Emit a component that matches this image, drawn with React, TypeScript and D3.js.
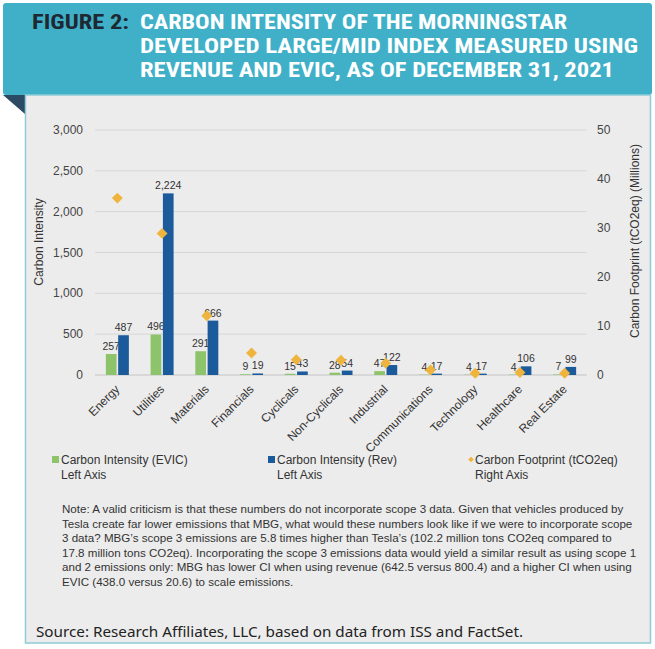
import React from "react";
import * as d3 from "d3";

const categories = [
  "Energy",
  "Utilities",
  "Materials",
  "Financials",
  "Cyclicals",
  "Non-Cyclicals",
  "Industrial",
  "Communications",
  "Technology",
  "Healthcare",
  "Real Estate",
];
const evicValues = [257, 496, 291, 9, 15, 28, 47, 4, 4, 4, 7];
const revValues = [487, 2224, 666, 19, 43, 54, 122, 17, 17, 106, 99];
const footprintValues = [36.1, 28.9, 12.1, 4.5, 3.1, 3.0, 2.4, 1.0, 0.35, 0.5, 0.35];
const leftTicks = [0, 500, 1000, 1500, 2000, 2500, 3000];
const rightTicks = [0, 10, 20, 30, 40, 50];

const titleLines = [
  "CARBON INTENSITY OF THE MORNINGSTAR",
  "DEVELOPED LARGE/MID INDEX MEASURED USING",
  "REVENUE AND EVIC, AS OF DECEMBER 31, 2021",
];
const titleWidths = [427, 498, 474];
const noteLines = [
  "Note: A valid criticism is that these numbers do not incorporate scope 3 data. Given that vehicles produced by",
  "Tesla create far lower emissions that MBG, what would these numbers look like if we were to incorporate scope",
  "3 data? MBG\u2019s scope 3 emissions are 5.8 times higher than Tesla\u2019s (102.2 million tons CO2eq compared to",
  "17.8 million tons CO2eq). Incorporating the scope 3 emissions data would yield a similar result as using scope 1",
  "and 2 emissions only: MBG has lower CI when using revenue (642.5 versus 800.4) and a higher CI when using",
  "EVIC (438.0 versus 20.6) to scale emissions.",
];

const GREEN = "#8dc46b";
const BLUE = "#1b5b9c";
const GOLD = "#efb43d";
const FONT = "'Liberation Sans', Arial, sans-serif";

export default function App() {
  const W = 655;
  const H = 649;
  const plot = { left: 95, right: 587, top: 130, bottom: 375 };

  const x = d3.scaleBand().domain(categories).range([plot.left, plot.right]);
  const bw = x.bandwidth();
  const x1 = d3
    .scaleBand()
    .domain(["evic", "rev"])
    .range([bw / 2 - 11.5, bw / 2 + 11.5])
    .paddingInner(0.13);
  const yL = d3.scaleLinear().domain([0, 3000]).range([plot.bottom, plot.top]);
  const yR = d3.scaleLinear().domain([0, 50]).range([plot.bottom, plot.top]);
  const diamond = d3.symbol(d3.symbolSquare, 60)()!;
  const smallDiamond = d3.symbol(d3.symbolSquare, 16)()!;
  const fmt = d3.format(",");

  const series = [
    { key: "evic", values: evicValues, color: GREEN },
    { key: "rev", values: revValues, color: BLUE },
  ];

  const legend = [
    { x: 52, kind: "sq", color: GREEN, l1: "Carbon Intensity (EVIC)", l2: "Left Axis" },
    { x: 268, kind: "sq", color: BLUE, l1: "Carbon Intensity (Rev)", l2: "Left Axis" },
    { x: 468, kind: "dm", color: GOLD, l1: "Carbon Footprint (tCO2eq)", l2: "Right Axis" },
  ];
  const legendY = 464;

  return (
    <svg
      width={W}
      height={H}
      style={{ position: "absolute", left: 0, top: 0 }}
      fontFamily={FONT}
    >
      <rect width={W} height={H} fill="#ffffff" />
      {/* header */}
      <rect x={3} y={3} width={649} height={92} rx={3} fill="#3fb0c8" />
      <path d="M3,95 L25,95 L25,114 Z" fill="#2c4a64" />
      <text
        x={32}
        y={29}
        fontFamily="'Roboto Condensed','DejaVu Sans Condensed',Roboto,sans-serif"
        fontWeight="bold"
        fontSize={20}
        fill="#1d2833"
        textLength={97}
        lengthAdjust="spacingAndGlyphs"
      >
        FIGURE 2:
      </text>
      {titleLines.map((t, i) => (
        <text
          key={i}
          x={140}
          y={29 + i * 24}
          fontFamily="'Roboto Condensed','DejaVu Sans Condensed',Roboto,sans-serif"
          fontWeight="bold"
          fontSize={20}
          fill="#ffffff"
          textLength={titleWidths[i]}
          lengthAdjust="spacingAndGlyphs"
        >
          {t}
        </text>
      ))}

      {/* panel */}
      <rect x={25.5} y={95} width={625} height={548} fill="#ececec" stroke="#8fcbd6" strokeWidth={1.5} />

      {/* grid */}
      {leftTicks.map((t) => (
        <line
          key={t}
          x1={plot.left}
          x2={plot.right}
          y1={yL(t)}
          y2={yL(t)}
          stroke={t === 0 ? "#c4c4c4" : "#d6d6d6"}
          strokeWidth={1}
        />
      ))}
      {leftTicks.map((t) => (
        <text key={t} x={83} y={yL(t) + 4} textAnchor="end" fontSize={12} fill="#444">
          {fmt(t)}
        </text>
      ))}
      {rightTicks.map((t) => (
        <text key={t} x={597} y={yR(t) + 4} textAnchor="start" fontSize={12} fill="#444">
          {t}
        </text>
      ))}
      <text transform={`translate(43,242) rotate(-90)`} textAnchor="middle" fontSize={12} fill="#333">
        Carbon Intensity
      </text>
      <text transform={`translate(639,241) rotate(-90)`} textAnchor="middle" fontSize={12} fill="#333">
        Carbon Footprint (tCO2eq) (Millions)
      </text>

      {/* bars */}
      {series.map((s) =>
        categories.map((c, i) => {
          const bx = x(c)! + x1(s.key)!;
          const v = s.values[i];
          return (
            <g key={s.key + c}>
              <rect x={bx} y={yL(v)} width={x1.bandwidth()} height={yL(0) - yL(v)} fill={s.color} />
              <text
                x={bx + x1.bandwidth() / 2}
                y={yL(v) - 4}
                textAnchor="middle"
                fontSize={10.5}
                fill="#333"
              >
                {fmt(v)}
              </text>
            </g>
          );
        })
      )}

      {/* footprint diamonds */}
      {categories.map((c, i) => (
        <path
          key={c}
          d={diamond}
          transform={`translate(${x(c)! + bw / 2},${yR(footprintValues[i])}) rotate(45)`}
          fill={GOLD}
        />
      ))}

      {/* x labels */}
      {categories.map((c) => (
        <text
          key={c}
          transform={`translate(${x(c)! + bw / 2 + 3},${plot.bottom + 15}) rotate(-45)`}
          textAnchor="end"
          fontSize={12}
          fill="#333"
        >
          {c}
        </text>
      ))}

      {/* legend */}
      {legend.map((d) => (
        <g key={d.l1}>
          {d.kind === "sq" ? (
            <rect x={d.x} y={legendY - 8} width={7} height={7} fill={d.color} />
          ) : (
            <path d={smallDiamond} transform={`translate(${d.x + 3},${legendY - 4.5}) rotate(45)`} fill={d.color} />
          )}
          <text x={d.x + (d.kind === "sq" ? 9 : 7)} y={legendY} fontSize={12} fill="#333">
            {d.l1}
          </text>
          <text x={d.x + (d.kind === "sq" ? 9 : 7)} y={legendY + 15} fontSize={12} fill="#333">
            {d.l2}
          </text>
        </g>
      ))}

      {/* note */}
      {noteLines.map((t, i) => (
        <text key={i} x={62} y={513 + i * 14.5} fontSize={11.6} fill="#333">
          {t}
        </text>
      ))}

      <text
        x={36}
        y={637}
        fontFamily="'Noto Sans','Open Sans',sans-serif"
        fontSize={14}
        fill="#222"
        textLength={487}
        lengthAdjust="spacingAndGlyphs"
      >
        Source: Research Affiliates, LLC, based on data from ISS and FactSet.
      </text>
    </svg>
  );
}
